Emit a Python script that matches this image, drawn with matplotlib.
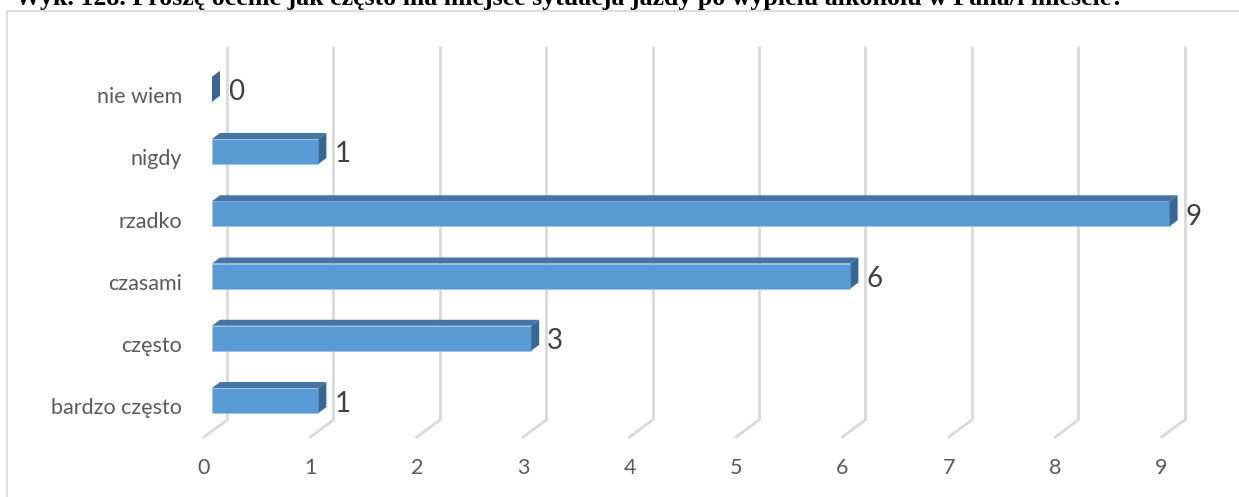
import matplotlib.pyplot as plt
from matplotlib.patches import Polygon, Rectangle

categories = ["bardzo często", "często", "czasami", "rzadko", "nigdy", "nie wiem"]
values = [1, 3, 6, 9, 1, 0]
ticks = [0, 1, 2, 3, 4, 5, 6, 7, 8, 9]
title = "Wyk. 128. Proszę ocenić jak często ma miejsce sytuacja jazdy po wypiciu alkoholu w Pana/i mieście?"

W, H = 1239, 497
fig = plt.figure(figsize=(W / 100, H / 100), dpi=100)
ax = fig.add_axes([0, 0, 1, 1])
ax.axis("off")

# pixel scale of the chart: 106.4 px per unit, 62.25 px per category
ux, uy = 106.4, 62.25
ax.set_xlim(-212 / ux, (W - 212) / ux)
ax.set_ylim((400.5 - H) / uy, 400.5 / uy)

# chart border (right and bottom edges fall outside the picture)
fig.patches.append(Rectangle((7 / W, -0.1), 1.2, 1.1 - 11 / H, transform=fig.transFigure,
                             fill=False, edgecolor="#d9d9d9", linewidth=1.2))

# back wall gridlines + floor diagonals
gx_back, gx_front = 15 / ux, -8 / ux
gy_floor_back = (400.5 - 420) / uy
gy_floor_front = (400.5 - 437) / uy
gy_top = (400.5 - 46) / uy
for t in ticks:
    ax.plot([t + gx_back, t + gx_back], [gy_floor_back, gy_top], color="#d9d9d9", lw=2, zorder=1,
            solid_capstyle="butt")
    ax.plot([t + gx_back, t + gx_front], [gy_floor_back, gy_floor_front], color="#d9d9d9", lw=2, zorder=1)
    ax.text(t + gx_front, (400.5 - 468) / uy, str(t), ha="center", va="center",
            fontsize=15.5, color="#595959", family="Lato")

# bars with 3d look
h = 25 / uy
dx, dy = 8 / ux, 6 / uy
ypos = list(range(len(categories)))
ax.barh(ypos, values, height=h, color="#5b9bd5", edgecolor="#9dc3e6", linewidth=0.6, zorder=3)
for y, v in zip(ypos, values):
    top = [(0, y + h / 2), (v, y + h / 2), (v + dx, y + h / 2 + dy), (dx, y + h / 2 + dy)]
    side = [(v, y - h / 2), (v + dx, y - h / 2 + dy), (v + dx, y + h / 2 + dy), (v, y + h / 2)]
    ax.add_patch(Polygon(top, closed=True, facecolor="#4675a5", edgecolor="none", zorder=4))
    ax.add_patch(Polygon(side, closed=True, facecolor="#3a6691", edgecolor="none", zorder=4))
    ax.text(v + 16 / ux, y - 3 / uy, str(v), ha="left", va="center", fontsize=20,
            color="#404040", family="Lato")

for y, c in zip(ypos, categories):
    ax.text(-30 / ux, y - 8 / uy, c, ha="right", va="center", fontsize=15.5,
            color="#595959", family="Lato")

fig.text(15 / W, 1 - 5 / H, title, ha="left", va="baseline", fontsize=18.6, fontweight="bold",
         family="Liberation Serif", color="black")

fig.savefig("out.png", dpi=100)
